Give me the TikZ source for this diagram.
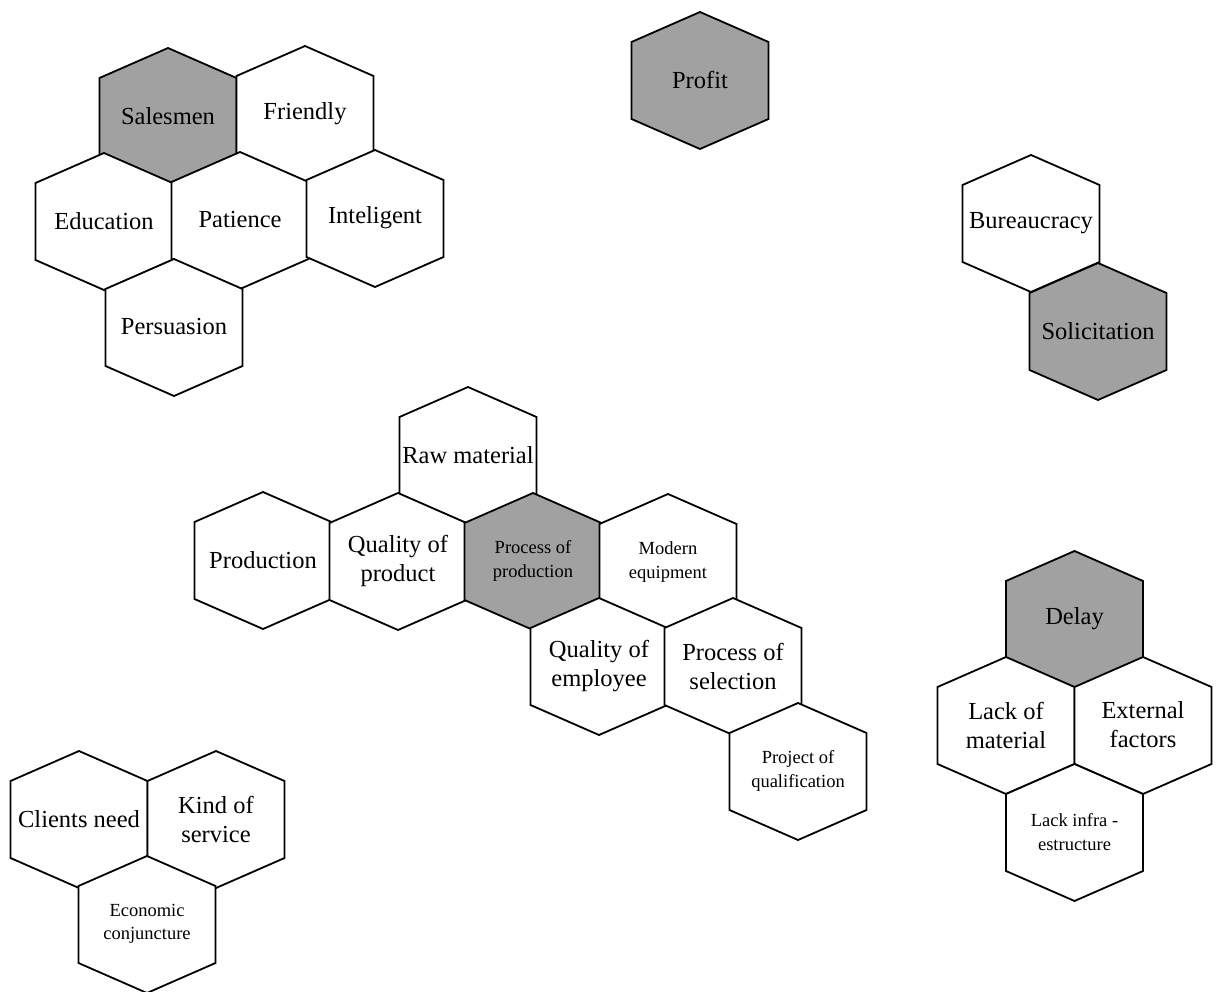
\documentclass[tikz,border=0pt]{standalone}
\usepackage{fontspec}
\setmainfont{Liberation Serif}

\definecolor{hexgray}{gray}{0.63}
\tikzset{
  hexline/.style={line width=1.8pt, line join=miter},
  bigtext/.style={font=\fontsize{24.5}{29}\selectfont, align=center, inner sep=0pt},
  smalltext/.style={font=\fontsize{18.5}{23.5}\selectfont, align=center, inner sep=0pt}
}
% 六角形のセル: 名前, 中心, 塗り, 文字の大きさ, 文字
\newcommand{\hexcell}[5]{%
  \filldraw[hexline, fill=#3] (#2) ++(0,-68) -- ++(68.5,30) -- ++(0,77)
    -- ++(-68.5,30) -- ++(-68.5,-30) -- ++(0,-77) -- cycle;
  \node[#4] (#1) at (#2) {#5};
}

\begin{document}
\begin{tikzpicture}[x=1pt, y=-1pt]
  \useasboundingbox (0,0) rectangle (1218,992);

  % 利益
  \hexcell{profit}{700,80}{hexgray}{bigtext}{Profit}

  % 営業マン
  \hexcell{salesmen}{168,116}{hexgray}{bigtext}{Salesmen}
  \hexcell{friendly}{305,114}{white}{bigtext}{Friendly}
  \hexcell{education}{104,221}{white}{bigtext}{Education}
  \hexcell{patience}{240,220}{white}{bigtext}{Patience}
  \hexcell{inteligent}{375,218}{white}{bigtext}{Inteligent}
  \hexcell{persuasion}{174,327}{white}{bigtext}{Persuasion}

  % 申請
  \hexcell{bureaucracy}{1031,223}{white}{bigtext}{Bureaucracy}
  \hexcell{solicitation}{1098,331}{hexgray}{bigtext}{Solicitation}

  % 生産工程
  \hexcell{rawmat}{468,455}{white}{bigtext}{Raw material}
  \hexcell{production}{263,560}{white}{bigtext}{Production}
  \hexcell{qualprod}{398,561}{white}{bigtext}{Quality of\\product}
  \hexcell{procprod}{533,561}{hexgray}{smalltext}{Process of\\production}
  \hexcell{modequip}{668,562}{white}{smalltext}{Modern\\equipment}
  \hexcell{qualemp}{599,666}{white}{bigtext}{Quality of\\employee}
  \hexcell{procsel}{733,666}{white}{bigtext}{Process of\\selection}
  \hexcell{projqual}{798,771}{white}{smalltext}{Project of\\qualification}

  % 遅延
  \hexcell{delay}{1074.5,619}{hexgray}{bigtext}{Delay}
  \hexcell{lackmat}{1006,725}{white}{bigtext}{Lack of\\material}
  \hexcell{extfact}{1143,725}{white}{bigtext}{External\\factors}
  \hexcell{lackinfra}{1074.5,832}{white}{smalltext}{Lack infra -\\estructure}

  % 顧客
  \hexcell{clients}{79,819}{white}{bigtext}{Clients need}
  \hexcell{kindserv}{216,819}{white}{bigtext}{Kind of\\service}
  \hexcell{economic}{147,924}{white}{smalltext}{Economic\\conjuncture}
\end{tikzpicture}
\end{document}
